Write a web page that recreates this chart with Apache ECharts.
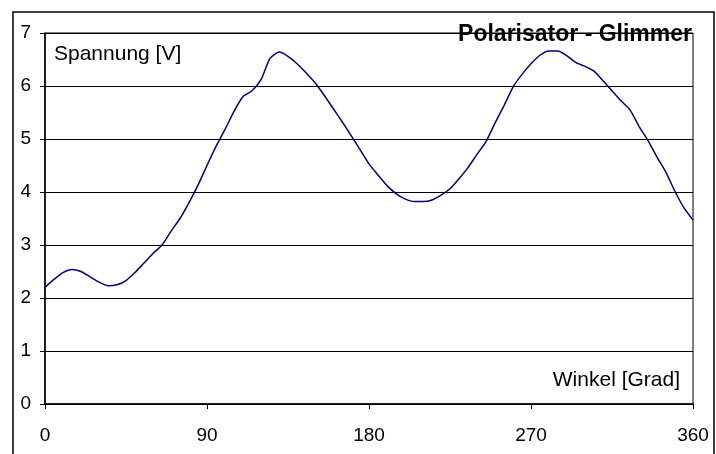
<!DOCTYPE html>
<html>
<head>
<meta charset="utf-8">
<script src="https://cdn.jsdelivr.net/npm/echarts@6/dist/echarts.min.js"></script>
<style>
  html, body { margin: 0; padding: 0; background: #fff; }
  #chart { width: 716px; height: 454px; }
</style>
</head>
<body>
<div id="chart"></div>
<script>
const angles = [
  0, 5, 10, 15, 20, 25, 30, 35, 40, 45, 50, 55, 60, 65, 70, 75, 80, 85,
  90, 95, 100, 105, 110, 115, 120, 125, 130, 135, 140, 145, 150, 155, 160, 165, 170, 175,
  180, 185, 190, 195, 200, 205, 210, 215, 220, 225, 230, 235, 240, 245, 250, 255, 260, 265,
  270, 275, 280, 285, 290, 295, 300, 305, 310, 315, 320, 325, 330, 335, 340, 345, 350, 355, 360
];
const voltages = [
  2.20, 2.35, 2.48, 2.54, 2.50, 2.40, 2.30, 2.23, 2.25, 2.33, 2.48, 2.66, 2.84, 3.00, 3.26, 3.50, 3.80, 4.13,
  4.50, 4.86, 5.18, 5.52, 5.80, 5.91, 6.12, 6.52, 6.64, 6.56, 6.42, 6.25, 6.06, 5.83, 5.58, 5.33, 5.07, 4.80,
  4.53, 4.32, 4.12, 3.97, 3.87, 3.82, 3.82, 3.85, 3.94, 4.06, 4.25, 4.46, 4.71, 4.95, 5.30, 5.63, 5.98, 6.22,
  6.42, 6.58, 6.66, 6.66, 6.57, 6.44, 6.37, 6.28, 6.10, 5.91, 5.72, 5.55, 5.24, 4.97, 4.66, 4.37, 4.01, 3.70, 3.47
];
const xTicks = [0, 90, 180, 270, 360];
const yTicks = [0, 1, 2, 3, 4, 5, 6, 7];

const font = "'Liberation Sans', Arial, sans-serif";
const chart = echarts.init(document.getElementById("chart"), null, { renderer: "canvas" });

const option = {
  animation: false,
  backgroundColor: "#fff",
  title: {
    text: "Polarisator - Glimmer",
    right: 19,
    top: 18,
    textStyle: { fontFamily: font, fontSize: 23, fontWeight: "bold", color: "#000" },
    z: 10,
  },
  grid: {
    left: 45,
    right: 23,
    top: 33,
    bottom: 50,
    show: true,
    borderColor: "#000",
    borderWidth: 1,
  },
  graphic: [
    {
      type: "rect",
      shape: { x: 13, y: 12, width: 701, height: 460 },
      style: { fill: "none", stroke: "#000", lineWidth: 1.5 },
      silent: true,
    },
    {
      type: "text",
      left: 54,
      top: 44,
      style: { text: "Spannung [V]", font: "21px " + font, fill: "#000" },
      silent: true,
    },
    {
      type: "text",
      right: 36,
      top: 370,
      style: { text: "Winkel [Grad]", font: "21px " + font, fill: "#000" },
      silent: true,
    },
  ],
  xAxis: {
    type: "value",
    min: xTicks[0],
    max: xTicks[xTicks.length - 1],
    interval: 90,
    axisLine: { show: true, lineStyle: { color: "#000", width: 1.5 } },
    axisTick: { show: true, length: 5, inside: false, lineStyle: { color: "#000", width: 1 } },
    axisLabel: {
      margin: 22,
      fontFamily: font,
      fontSize: 19,
      color: "#000",
      formatter: (v) => (xTicks.includes(v) ? String(v) : ""),
    },
    splitLine: { show: false },
  },
  yAxis: {
    type: "value",
    min: yTicks[0],
    max: yTicks[yTicks.length - 1],
    interval: 1,
    axisLine: { show: true, lineStyle: { color: "#000", width: 1.5 } },
    axisTick: { show: true, length: 5, inside: false, lineStyle: { color: "#000", width: 1 } },
    axisLabel: {
      margin: 14,
      fontFamily: font,
      fontSize: 19,
      color: "#000",
    },
    splitLine: { show: true, lineStyle: { color: "#000", width: 1 } },
  },
  series: [
    {
      type: "line",
      data: angles.map((a, i) => [a, voltages[i]]),
      showSymbol: false,
      smooth: 0.2,
      lineStyle: { color: "#000080", width: 1.5 },
      silent: true,
    },
  ],
};

chart.setOption(option);
</script>
</body>
</html>
